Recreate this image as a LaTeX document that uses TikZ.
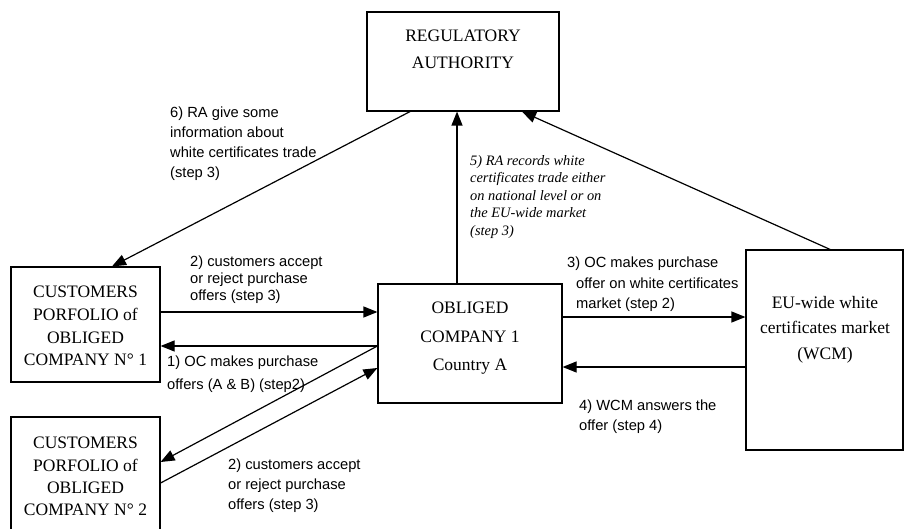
\documentclass[tikz,border=0pt]{standalone}
\usepackage{fontspec}
\setmainfont{Liberation Serif}
\setsansfont{Liberation Sans}
\usetikzlibrary{arrows.meta,calc}
\begin{document}
\begin{tikzpicture}[x=1pt,y=-1pt,
  box/.style={draw, line width=1.2pt, inner sep=0pt, rectangle},
  btext/.style={font=\fontsize{17.5}{27}\selectfont, align=center, anchor=north, inner sep=0pt},
  lbl/.style={font=\sffamily\fontsize{14.7}{20}\selectfont, align=left, anchor=north west, inner sep=0pt},
  ilbl/.style={font=\itshape\fontsize{14.4}{17.5}\selectfont, align=left, anchor=north west, inner sep=0pt},
  arr/.style={line width=1.2pt, -{Triangle[length=14pt,width=11pt]}}]
\useasboundingbox (0,0) rectangle (904,529);
\clip (0,0) rectangle (904,529);
% boxes
\node[box, minimum width=192pt, minimum height=99pt] (ra) at (463,61.5) {};
\node[box, minimum width=184pt, minimum height=119pt] (oc) at (470,343.5) {};
\node[box, minimum width=157pt, minimum height=200pt] (wcm) at (824.5,350) {};
\node[box, minimum width=149pt, minimum height=115pt] (c1) at (85.5,324.5) {};
\node[box, minimum width=149pt, minimum height=128pt] (c2) at (85.5,481) {};
% box texts
\node[btext] (rat) at (463,30) {REGULATORY\\AUTHORITY};
\node[btext, font=\fontsize{17.5}{28.5}\selectfont] (oct) at (470,302) {OBLIGED\\COMPANY 1\\Country A};
\node[btext, font=\fontsize{17.5}{25.5}\selectfont] (wcmt) at (825,296) {EU-wide white\\certificates market\\(WCM)};
\node[btext, font=\fontsize{17.5}{22.7}\selectfont] (c1t) at (85.5,286) {CUSTOMERS\\PORFOLIO of\\OBLIGED\\COMPANY N° 1};
\node[btext, font=\fontsize{17.5}{22.4}\selectfont] (c2t) at (85.5,437) {CUSTOMERS\\PORFOLIO of\\OBLIGED\\COMPANY N° 2};
% connectors
\draw[arr] ($(c1.east)+(0,-12.5)$) -- ($(oc.west)+(0,-31.5)$);
\draw[arr] ($(oc.west)+(0,2.5)$) -- ($(c1.east)+(0,21.5)$);
\draw[arr] ($(oc.west)+(0,2.5)$) -- ($(c2.east)+(0,-19)$);
\draw[arr] ($(c2.east)+(0,2)$) -- ($(oc.west)+(0,24.5)$);
\draw[arr] ($(oc.north)+(-13,0)$) -- ($(ra.south)+(-6,0)$);
\draw[arr] ($(wcm.north)+(5.5,0)$) -- ($(ra.south)+(59,0)$);
\draw[arr] ($(ra.south)+(-53,0)$) -- ($(c1.north)+(26.5,0)$);
\draw[arr] ($(oc.east)+(0,-26.5)$) -- ($(wcm.west)+(0,-33)$);
\draw[arr] ($(wcm.west)+(0,17)$) -- ($(oc.east)+(0,23.5)$);
% labels
\node[lbl] (l6) at (170,107) {6) RA give some\\information about\\white certificates trade\\(step 3)};
\node[lbl, font=\sffamily\fontsize{14.7}{17}\selectfont] (l2a) at (190,256) {2) customers accept\\or reject purchase\\offers (step 3)};
\node[lbl, font=\sffamily\fontsize{14.7}{23}\selectfont] (l1) at (167,356) {1) OC makes purchase\\offers (A \& B) (step2)};
\node[lbl] (l2b) at (228,459) {2) customers accept\\or reject purchase\\offers (step 3)};
\node[ilbl] (l5) at (470,155) {5) RA records white\\certificates trade either\\on national level or on\\the EU-wide market\\(step 3)};
\node[lbl, font=\sffamily\fontsize{14.7}{20.5}\selectfont] (l3) at (576,257) {\hspace*{-9pt}3) OC makes purchase\\offer on white certificates\\market (step 2)};
\node[lbl] (l4) at (579,400) {4) WCM answers the\\offer (step 4)};
\end{tikzpicture}
\end{document}
